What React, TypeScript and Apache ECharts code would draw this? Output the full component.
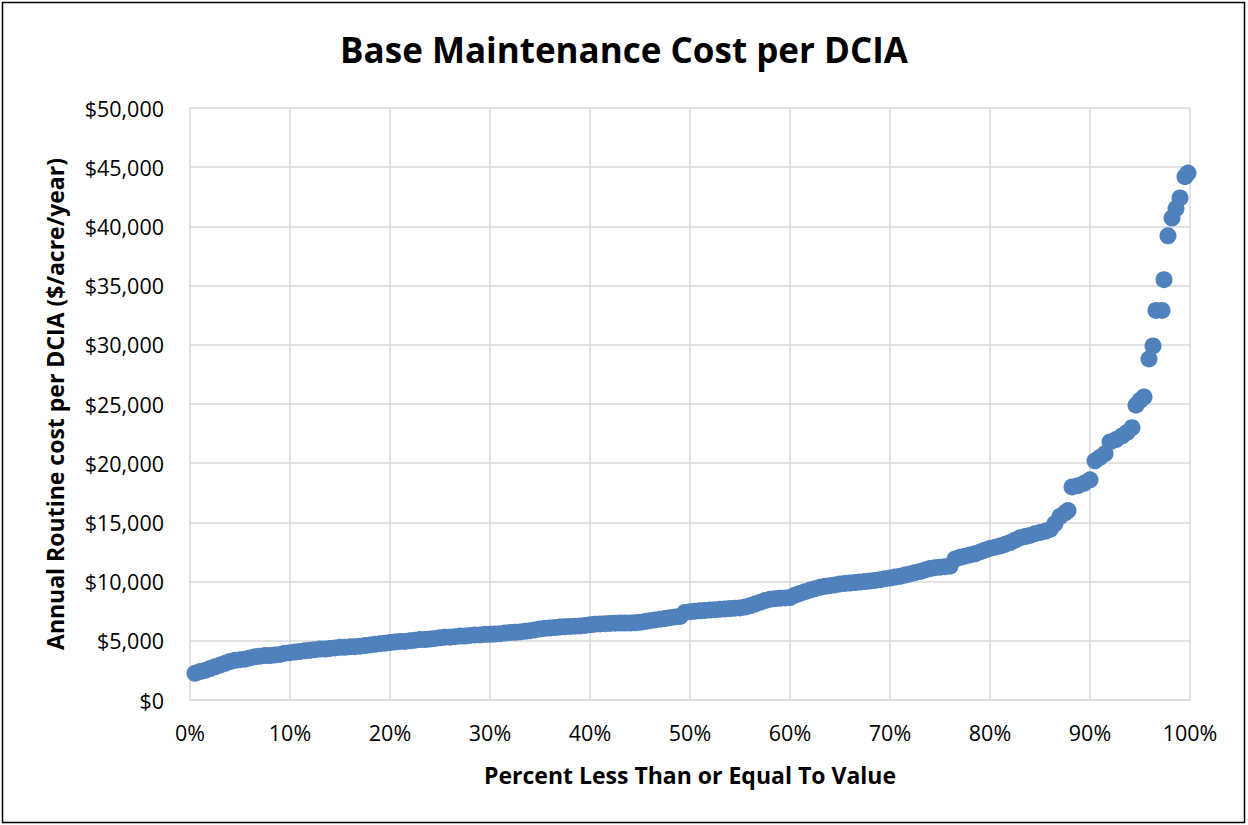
import React, { useEffect, useRef } from "react";
import * as echarts from "echarts";

const titleText = "Base Maintenance Cost per DCIA";
const xAxisTitle = "Percent Less Than or Equal To Value";
const yAxisTitle = "Annual Routine cost per DCIA ($/acre/year)";

// Percentile positions (%) for the dense part of the curve
const densePercents: number[] = [
  0.5, 1, 1.5, 2, 2.5, 3, 3.5, 4, 4.5, 5, 5.5, 6, 6.5, 7, 7.5, 8, 8.5, 9, 9.5, 10,
  10.5, 11, 11.5, 12, 12.5, 13, 13.5, 14, 14.5, 15, 15.5, 16, 16.5, 17, 17.5, 18, 18.5, 19, 19.5, 20,
  20.5, 21, 21.5, 22, 22.5, 23, 23.5, 24, 24.5, 25, 25.5, 26, 26.5, 27, 27.5, 28, 28.5, 29, 29.5, 30,
  30.5, 31, 31.5, 32, 32.5, 33, 33.5, 34, 34.5, 35, 35.5, 36, 36.5, 37, 37.5, 38, 38.5, 39, 39.5, 40,
  40.5, 41, 41.5, 42, 42.5, 43, 43.5, 44, 44.5, 45, 45.5, 46, 46.5, 47, 47.5, 48, 48.5, 49, 49.5, 50,
  50.5, 51, 51.5, 52, 52.5, 53, 53.5, 54, 54.5, 55, 55.5, 56, 56.5, 57, 57.5, 58, 58.5, 59, 59.5, 60,
  60.5, 61, 61.5, 62, 62.5, 63, 63.5, 64, 64.5, 65, 65.5, 66, 66.5, 67, 67.5, 68, 68.5, 69, 69.5, 70,
  70.5, 71, 71.5, 72, 72.5, 73, 73.5, 74, 74.5, 75, 75.5, 76, 76.5, 77, 77.5, 78, 78.5, 79, 79.5, 80,
  80.5, 81, 81.5, 82, 82.5, 83, 83.5, 84, 84.5, 85, 85.5, 86, 86.5, 87, 87.5, 87.8,
];

// Annual cost ($/acre/year) at each percent above
const denseValues: number[] = [
  2250, 2400, 2500, 2650, 2800, 2950, 3100, 3250, 3350, 3400, 3450, 3550, 3650, 3700, 3750, 3750, 3800, 3850, 3950, 4000,
  4050, 4100, 4150, 4200, 4250, 4300, 4300, 4350, 4400, 4450, 4450, 4500, 4500, 4550, 4600, 4650, 4700, 4750, 4800, 4850,
  4900, 4950, 4950, 5000, 5050, 5100, 5100, 5150, 5200, 5250, 5300, 5300, 5350, 5400, 5400, 5450, 5500, 5500, 5550, 5550,
  5570, 5600, 5650, 5700, 5720, 5750, 5800, 5850, 5920, 6000, 6050, 6080, 6120, 6160, 6190, 6210, 6230, 6250, 6300, 6350,
  6400, 6420, 6450, 6470, 6490, 6500, 6500, 6500, 6520, 6560, 6620, 6700, 6760, 6820, 6880, 6950, 7010, 7060, 7400, 7450,
  7500, 7530, 7560, 7600, 7630, 7660, 7690, 7720, 7750, 7780, 7850, 7950, 8100, 8250, 8400, 8500, 8560, 8600, 8620, 8650,
  8850, 9000, 9150, 9280, 9400, 9520, 9600, 9650, 9720, 9800, 9850, 9880, 9920, 9960, 10000, 10050, 10100, 10150, 10250, 10300,
  10380, 10450, 10550, 10650, 10750, 10850, 10980, 11100, 11180, 11220, 11260, 11300, 11900, 12050, 12150, 12250, 12350, 12500, 12650, 12800,
  12900, 13000, 13150, 13300, 13500, 13700, 13800, 13900, 14050, 14150, 14250, 14400, 14900, 15500, 15800, 16000,
];

// Sparse upper tail
const tailPercents: number[] = [
  88.2, 88.8, 89.4, 90.0, 90.5, 91.0, 91.5, 92.0, 92.6, 93.2, 93.7, 94.2, 94.6, 95.0, 95.4,
  95.9, 96.3, 96.6, 97.2, 97.4, 97.8, 98.2, 98.6, 99.0, 99.5, 99.8,
];
const tailValues: number[] = [
  18000, 18100, 18300, 18600, 20200, 20500, 20800, 21800, 22000, 22300, 22600, 23000, 24900, 25300, 25600,
  28800, 29900, 32900, 32900, 35500, 39200, 40700, 41500, 42400, 44200, 44500,
];

const COLOR = "#4F81BD";
const FONT = "'Open Sans', 'Liberation Sans', sans-serif";

export default function App() {
  const ref = useRef<HTMLDivElement>(null);

  useEffect(() => {
    if (!ref.current) return;
    const chart = echarts.init(ref.current, undefined, { renderer: "svg" });
    const data: number[][] = [];
    densePercents.forEach((p, i) => data.push([p / 100, denseValues[i]]));
    tailPercents.forEach((p, i) => data.push([p / 100, tailValues[i]]));

    chart.setOption({
      animation: false,
      backgroundColor: "#ffffff",
      title: {
        text: titleText,
        left: "center",
        top: 27,
        textStyle: { fontFamily: FONT, fontSize: 35, fontWeight: "bold", color: "#000000" },
      },
      grid: { left: 190, right: 58, top: 108, bottom: 125, containLabel: false },
      xAxis: {
        type: "value",
        min: 0,
        max: 1,
        interval: 0.1,
        name: xAxisTitle,
        nameLocation: "middle",
        nameGap: 63,
        nameTextStyle: { fontFamily: FONT, fontSize: 23, fontWeight: "bold", color: "#000000" },
        axisLine: { show: true, lineStyle: { color: "#d9d9d9", width: 1 } },
        axisTick: { show: false },
        axisLabel: {
          margin: 21,
          fontFamily: FONT,
          fontSize: 21.5,
          color: "#000000",
          formatter: (v: number) => Math.round(v * 100) + "%",
        },
        splitLine: { show: true, lineStyle: { color: "#d9d9d9", width: 1.5 } },
      },
      yAxis: {
        type: "value",
        min: 0,
        max: 50000,
        interval: 5000,
        name: yAxisTitle,
        nameLocation: "middle",
        nameGap: 124,
        nameRotate: 90,
        nameTextStyle: { fontFamily: FONT, fontSize: 23, fontWeight: "bold", color: "#000000" },
        axisLine: { show: false },
        axisTick: { show: false },
        axisLabel: {
          margin: 26,
          fontFamily: FONT,
          fontSize: 21.5,
          color: "#000000",
          formatter: (v: number) => "$" + v.toLocaleString("en-US"),
        },
        splitLine: { show: true, lineStyle: { color: "#d9d9d9", width: 1.5 } },
      },
      series: [
        {
          type: "scatter",
          data,
          symbol: "circle",
          symbolSize: 17,
          itemStyle: { color: COLOR, opacity: 1 },
        },
      ],
      graphic: [
        {
          type: "rect",
          shape: { x: 2.5, y: 2.5, width: 1242, height: 820 },
          style: { fill: "none", stroke: "#000000", lineWidth: 1.5 },
          silent: true,
        },
      ],
    });
    return () => chart.dispose();
  }, []);

  return (
    <div
      ref={ref}
      style={{ position: "absolute", left: 0, top: 0, width: 1248, height: 825 }}
    />
  );
}
